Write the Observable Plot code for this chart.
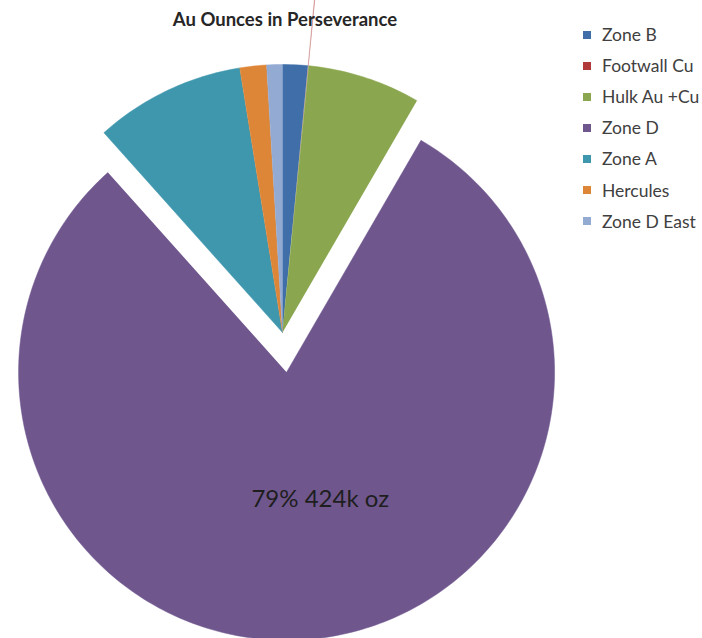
<!DOCTYPE html>
<html>
<head>
<meta charset="utf-8">
<script src="https://cdn.jsdelivr.net/npm/d3@7"></script>
<script src="https://cdn.jsdelivr.net/npm/@observablehq/plot@0.6"></script>
<style>
  html, body { margin: 0; padding: 0; background: #fff; }
  #wrap { position: relative; width: 702px; height: 638px; overflow: hidden; font-family: Lato, "Open Sans", sans-serif; }
  #chart { position: absolute; left: 0; top: 0; }
  #title { position: absolute; left: 0; width: 570px; top: 8px; text-align: center; font-weight: bold; font-size: 18.5px; color: #262626; }
  #legend { position: absolute; left: 583px; top: 19px; }
  .row { display: flex; align-items: center; height: 31.1px; font-size: 17.5px; color: #404040; white-space: nowrap; }
  .sw { width: 8px; height: 8px; margin-right: 11px; flex: none; }
</style>
</head>
<body>
<div id="wrap">
  <div id="chart"></div>
  <div id="title">Au Ounces in Perseverance</div>
  <div id="legend"></div>
</div>
<script>
// Data (thousand ounces of Au)
const names = ["Zone B", "Footwall Cu", "Hulk Au +Cu", "Zone D", "Zone A", "Hercules", "Zone D East"];
const ounces = [8, 0.3, 36, 424, 48, 8.5, 5];
const labels = ["", "", "", "79% 424k oz", "", "", ""];
const colors = ["#3F6EA8", "#B03A3A", "#8AA64F", "#6F578E", "#3F97AE", "#DE8638", "#93AAD3"];
const explode = [0, 0.37, 0, 0.149, 0, 0, 0]; // fraction of radius

const total = d3.sum(ounces);
const rows = [];
const labelRows = [];
let cum = 0;
names.forEach((name, i) => {
  const a0 = cum / total * 2 * Math.PI;
  cum += ounces[i];
  const a1 = cum / total * 2 * Math.PI;
  const mid = (a0 + a1) / 2;
  const ox = explode[i] * Math.sin(mid);
  const oy = explode[i] * Math.cos(mid);
  rows.push({name, x: ox, y: oy});
  const n = Math.max(2, Math.ceil((a1 - a0) * 180 / Math.PI));
  for (let k = 0; k <= n; k++) {
    const t = a0 + (a1 - a0) * k / n;
    rows.push({name, x: ox + Math.sin(t), y: oy + Math.cos(t)});
  }
  if (labels[i]) labelRows.push({name, text: labels[i], x: ox + 0.5 * Math.sin(mid), y: oy + 0.5 * Math.cos(mid)});
});

const chart = Plot.plot({
  width: 702,
  height: 638,
  margin: 0,
  x: {domain: [-282 / 268, 420 / 268], axis: null},
  y: {domain: [-306 / 268, 332 / 268], axis: null},
  color: {domain: names, range: colors},
  marks: [
    Plot.line(rows.filter(d => d.name === "Footwall Cu"), {x: "x", y: "y", z: "name", fill: "name", stroke: "name", strokeWidth: 0.6, strokeOpacity: 0.45, fillOpacity: 0.45}),
    Plot.line(rows.filter(d => d.name !== "Footwall Cu"), {x: "x", y: "y", z: "name", fill: "name", stroke: "name", strokeWidth: 0.5}),
    Plot.text(labelRows, {x: "x", y: "y", text: "text", dx: 20, dy: -6, fontSize: 24, fill: "#1e1e1e", fontFamily: "Lato, 'Open Sans', sans-serif"})
  ]
});
document.getElementById("chart").appendChild(chart);

const legend = document.getElementById("legend");
names.forEach((name, i) => {
  const row = document.createElement("div");
  row.className = "row";
  const sw = document.createElement("span");
  sw.className = "sw";
  sw.style.background = colors[i];
  const t = document.createElement("span");
  t.textContent = name;
  row.appendChild(sw);
  row.appendChild(t);
  legend.appendChild(row);
});
</script>
</body>
</html>
